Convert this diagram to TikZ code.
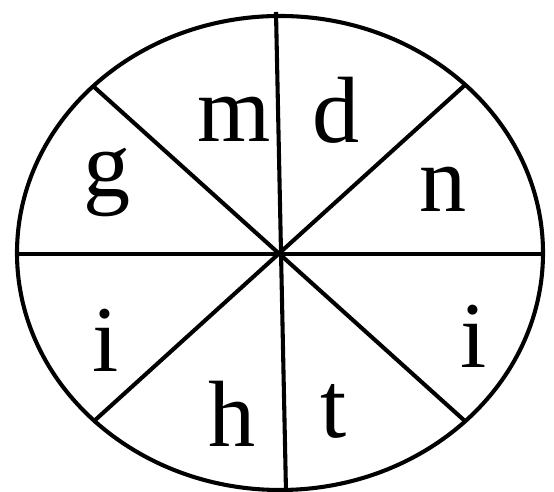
\documentclass[tikz,border=0pt]{standalone}
\usepackage{fontspec}
\setmainfont{Liberation Serif}
\tikzset{
  rim/.style={line width=2.9pt, draw=black},
  spoke/.style={line width=2.9pt, draw=black, line cap=butt},
  letter/.style={font=\fontsize{67}{70}\selectfont, anchor=base, inner sep=0pt},
}
\begin{document}
\begin{tikzpicture}
\useasboundingbox (0,0) rectangle (13.850,12.300);
\draw[spoke] (0.425,5.950) -- (13.575,5.950);
\draw[spoke] (6.900,12.000) -- (7.150,0.000);
\draw[spoke] (2.325,10.150) -- (11.650,1.750);
\draw[spoke] (11.625,10.175) -- (2.325,1.750);
\draw[rim] (7.000,5.975) ellipse (6.575 and 5.925);
\node[letter] (m) at (5.850,8.750) {m};
\node[letter] (d) at (8.400,8.725) {d};
\node[letter] (g) at (2.675,7.375) {g};
\node[letter] (n) at (11.075,7.000) {n};
\node[letter] (il) at (2.650,3.000) {i};
\node[letter] (ir) at (11.850,3.100) {i};
\node[letter] (h) at (5.800,1.125) {h};
\node[letter] (t) at (8.350,1.350) {t};
\end{tikzpicture}
\end{document}
